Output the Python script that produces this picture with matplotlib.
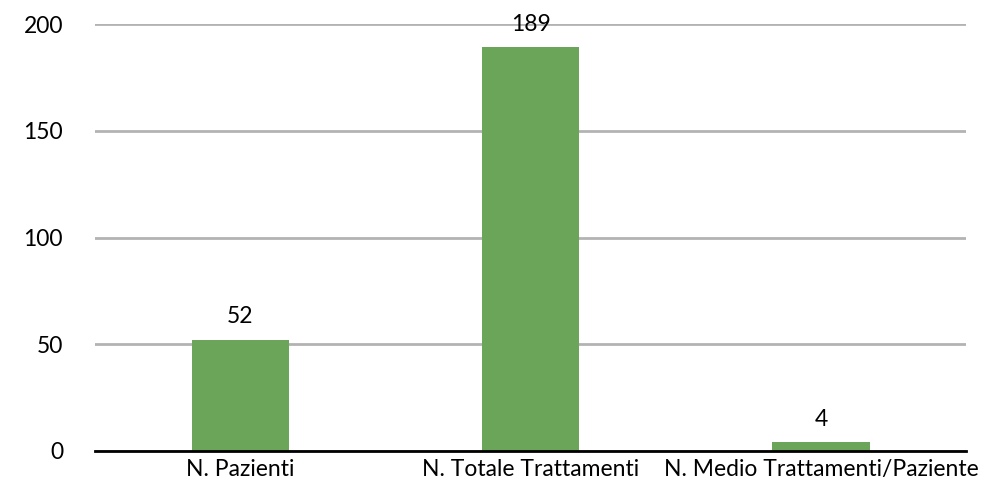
import matplotlib.pyplot as plt

categories = ["N. Pazienti", "N. Totale Trattamenti", "N. Medio Trattamenti/Paziente"]
values = [52, 189, 4]
yticks = [0, 50, 100, 150, 200]

plt.rcParams['font.family'] = ['Lato', 'DejaVu Sans']

fig = plt.figure(figsize=(9.96, 4.9), dpi=100)
ax = fig.add_axes([0.0954, 0.0796, 0.8746, 0.8714])

x = range(len(categories))
bars = ax.bar(x, values, width=0.335, color='#6aa55a', zorder=3)
for b, v in zip(bars, values):
    ax.text(b.get_x() + b.get_width() / 2, v + 6, str(v),
            ha='center', va='bottom', fontsize=16.5, color='black')

ax.set_xlim(-0.5, len(categories) - 0.5)
ax.set_ylim(0, 200)
ax.set_yticks(yticks)
ax.set_xticks(list(x))
ax.set_xticklabels(categories)
ax.tick_params(axis='both', length=0, labelsize=16.5, colors='black')
ax.tick_params(axis='y', pad=23)
ax.tick_params(axis='x', pad=6)

ax.yaxis.grid(True, color='#b3b3b3', linewidth=2, zorder=0)
for s in ['top', 'right', 'left']:
    ax.spines[s].set_visible(False)
ax.spines['bottom'].set_color('black')
ax.spines['bottom'].set_linewidth(2)
ax.spines['bottom'].set_zorder(4)

fig.savefig('out.png', dpi=100)
